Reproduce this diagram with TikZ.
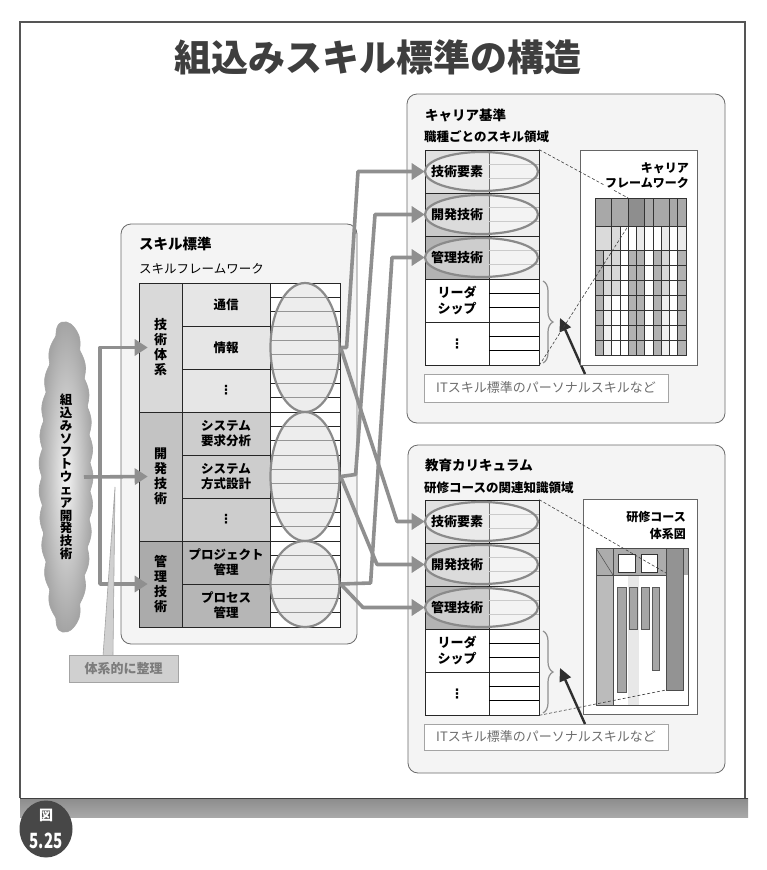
\documentclass[tikz,border=0pt]{standalone}
\usepackage{fontspec}
\setmainfont{Noto Sans CJK JP}
\newfontfamily\dejavu{DejaVu Sans}
\usetikzlibrary{shapes.geometric,arrows.meta,decorations.pathreplacing}
\newcommand\myfs[2]{\fontsize{#1pt}{#2pt}\selectfont}
\newcommand\myvdots{{\dejavu\bfseries ⋮}}
\definecolor{conncol}{HTML}{8F8F8F}
\definecolor{frameline}{HTML}{555555}
\definecolor{panelfill}{HTML}{F4F4F4}
\definecolor{panelline}{HTML}{6A6A6A}
\definecolor{tA1}{HTML}{D9D9D9}
\definecolor{tA2}{HTML}{E6E6E6}
\definecolor{tB1}{HTML}{C3C3C3}
\definecolor{tB2}{HTML}{CDCDCD}
\definecolor{tC1}{HTML}{ABABAB}
\definecolor{tC2}{HTML}{B6B6B6}
\definecolor{kA1}{HTML}{E0E0E0}
\definecolor{kB1}{HTML}{C9C9C9}
\definecolor{kC1}{HTML}{B3B3B3}
\definecolor{kcol2}{HTML}{EEEEEE}
\definecolor{ellline}{HTML}{8A8A8A}
\definecolor{ellfill}{HTML}{E2E2E2}
\definecolor{subgray}{HTML}{B0B0B0}
\definecolor{textgray}{HTML}{6E6E6E}
\definecolor{darkarr}{HTML}{2E2E2E}
\definecolor{gtop}{HTML}{A8A8A8}
\definecolor{ghl}{HTML}{8E8E8E}
\definecolor{gD}{HTML}{B2B2B2}
\definecolor{gLa}{HTML}{D8D8D8}
\definecolor{gLb}{HTML}{EFEFEF}
\definecolor{gl2}{HTML}{DADADA}
\definecolor{gl3}{HTML}{EAEAEA}
\definecolor{cgray}{HTML}{ACACAC}
\definecolor{cgray2}{HTML}{BBBBBB}
\definecolor{cdark}{HTML}{939393}
\definecolor{cbar}{HTML}{A6A6A6}
\definecolor{clight}{HTML}{E8E8E8}
\definecolor{titlec}{HTML}{3E3E3E}
\definecolor{badgec}{HTML}{474747}
\definecolor{tkfill}{HTML}{D0D0D0}
\definecolor{tkline}{HTML}{A4A4A4}
\definecolor{tktext}{HTML}{7C7C7C}
\definecolor{bandtop}{HTML}{8C8C8C}
\definecolor{bandbot}{HTML}{A8A8A8}
\definecolor{cloudin}{HTML}{F2F2F2}
\definecolor{cloudout}{HTML}{A4A4A4}
\begin{document}
\begin{tikzpicture}[x=1pt,y=-1pt,
  panel/.style={draw=panelline, line width=0.8pt, fill=panelfill, rounded corners=10pt},
  cellbox/.style={draw=black!85, line width=0.6pt, inner sep=0pt, minimum height=43pt},
  lbl/.style={font=\myfs{12.5}{15}\bfseries, align=center, inner sep=0pt},
  klbl/.style={font=\myfs{13}{16}\bfseries, align=center, inner sep=0pt},
  ellnode/.style={ellipse, draw=ellline, line width=2.2pt, fill=ellfill, fill opacity=0.6, inner sep=0pt, minimum width=69pt},
  ellk/.style={ellipse, draw=ellline, line width=2.2pt, fill=white, fill opacity=0.35, inner sep=0pt, minimum width=113pt, minimum height=39pt},
  gconn/.style={draw=conncol, line width=3.6pt, line join=round, -{Triangle[length=13pt,width=16pt]}},
  darrow/.style={draw=darkarr, line width=2.4pt, -{Triangle[length=13pt,width=12pt]}},
  gbrace/.style={draw=conncol, line width=1.2pt, decorate, decoration={brace, amplitude=10pt}},
  itbox/.style={draw=tkline, line width=0.8pt, fill=white, minimum width=244pt, text=textgray, font=\myfs{13}{15}, inner sep=0pt},
  dline/.style={draw=black!75, line width=0.6pt, dash pattern=on 3pt off 2pt},
  gridline/.style={draw=black!80, line width=0.5pt},
  ptitle/.style={anchor=west, font=\myfs{13.5}{16}\bfseries, inner sep=0pt},
  psub/.style={anchor=west, font=\myfs{12.5}{15}, inner sep=0pt}
]
\useasboundingbox (0,0) rectangle (766,870);
\fill[white] (0,0) rectangle (766,870);

% ---------- frame and band ----------
\draw[frameline, line width=1.2pt] (20,798) -- (20,22) -- (745,22) -- (745,798);
\shade[top color=bandtop, bottom color=bandbot] (20,798) rectangle (748,817);
\draw[black!75, line width=1pt] (20,798) -- (748,798);
\node[ellipse, fill=badgec, minimum width=53pt, minimum height=57pt, inner sep=0pt] (badge) at (46,829) {};
\node[text=white, font=\myfs{14}{16}\bfseries, inner sep=0pt] (badgea) at (46,815) {図};
\node[text=white, font=\myfs{21}{22}\bfseries, xscale=0.72, inner sep=0pt] (badgeb) at (46,841) {5.25};

% ---------- title ----------
\node[text=titlec, font=\myfs{37}{40}\bfseries, inner sep=0pt] (title) at (378,57) {組込みスキル標準の構造};

% ---------- panels ----------
\draw[panel] (121,224) rectangle (357,644);
\draw[panel] (407,94) rectangle (725,423);
\draw[panel] (408,445) rectangle (725,773);

% ---------- cloud ----------
\shadedraw[inner color=cloudin, outer color=cloudout, draw=black!35, line width=0.6pt]
  plot[domain=0:1, samples=160, smooth] ({66+24*pow(abs(sin(180*\x))+0.0001,0.45)+3*abs(sin(1980*\x))}, {322+310*\x})
  -- plot[domain=1:0, samples=160, smooth] ({66-24*pow(abs(sin(180*\x))+0.0001,0.45)-3*abs(sin(1980*\x+90))}, {322+310*\x}) -- cycle;
\node[font=\myfs{12.5}{12.8}\bfseries, align=center, inner sep=0pt] (cloudtxt) at (66,477)
  {組\\込\\み\\ソ\\フ\\ト\\ウ\\ェ\\ア\\開\\発\\技\\術};
\coordinate (cl) at (84,477);
\coordinate (trunk) at (100,477);

% ---------- skill standard ----------
\node[ptitle, font=\myfs{14.5}{16}\bfseries] (skt) at (139,244) {スキル標準};
\node[psub] (skf) at (139,269) {スキルフレームワーク};
\node[cellbox, fill=tA1, minimum width=43pt, minimum height=129pt] (g1) at (160.5,347.5) {};
\node[cellbox, fill=tB1, minimum width=43pt, minimum height=129pt] (g2) at (160.5,476.5) {};
\node[cellbox, fill=tC1, minimum width=43pt, minimum height=86pt] (g3) at (160.5,584) {};
\node[cellbox, fill=tA2, minimum width=88pt] (s1) at (226,304.5) {};
\node[cellbox, fill=tA2, minimum width=88pt] (s2) at (226,347.5) {};
\node[cellbox, fill=tA2, minimum width=88pt] (s3) at (226,390.5) {};
\node[cellbox, fill=tB2, minimum width=88pt] (s4) at (226,433.5) {};
\node[cellbox, fill=tB2, minimum width=88pt] (s5) at (226,476.5) {};
\node[cellbox, fill=tB2, minimum width=88pt] (s6) at (226,519.5) {};
\node[cellbox, fill=tC2, minimum width=88pt] (s7) at (226,562.5) {};
\node[cellbox, fill=tC2, minimum width=88pt] (s8) at (226,605.5) {};
\node[cellbox, fill=white, minimum width=70pt, minimum height=344pt] (s9) at (305,455) {};
\foreach \k in {1,...,23} \draw[line width=0.5pt, black!85] (270,{283+\k*43/3}) -- (340,{283+\k*43/3});
\node[ellnode, minimum height=129pt] (e1) at (305,347.5) {};
\node[ellnode, minimum height=129pt] (e2) at (305,476.5) {};
\node[ellnode, minimum height=86pt] (e3) at (305,584) {};
\node[lbl, font=\myfs{13}{15}\bfseries] (g1t) at (g1) {技\\術\\体\\系};
\node[lbl, font=\myfs{13}{15}\bfseries] (g2t) at (g2) {開\\発\\技\\術};
\node[lbl, font=\myfs{13}{15}\bfseries] (g3t) at (g3) {管\\理\\技\\術};
\node[lbl] (s1t) at (s1) {通信};
\node[lbl] (s2t) at (s2) {情報};
\node[lbl] (s3t) at (s3) {\myvdots};
\node[lbl] (s4t) at (s4) {システム\\要求分析};
\node[lbl] (s5t) at (s5) {システム\\方式設計};
\node[lbl] (s6t) at (s6) {\myvdots};
\node[lbl] (s7t) at (s7) {プロジェクト\\管理};
\node[lbl] (s8t) at (s8) {プロセス\\管理};

% left arrows and callout
\draw[gconn] (trunk) |- ([xshift=9pt]g1.west);
\draw[gconn] (trunk) |- ([xshift=9pt]g3.west);
\draw[gconn] (cl) -- ([xshift=9pt]g2.west);
\filldraw[fill=tkfill, draw=tkline, line width=0.6pt] (103,656) -- (115,487) -- (113,656) -- cycle;
\node[draw=tkline, line width=0.8pt, fill=tkfill, minimum width=109pt, minimum height=27pt, text=tktext, font=\myfs{13}{15}\bfseries, inner sep=0pt] (tk) at (123.5,668.5) {体系的に整理};

% ---------- career ----------
\node[ptitle] (kt) at (425,115) {キャリア基準};
\node[psub, font=\myfs{12.5}{15}\bfseries] (kf) at (424,137) {職種ごとのスキル領域};
\node[cellbox, fill=kA1, minimum width=64pt] (k1) at (457,171.5) {};
\node[cellbox, fill=kB1, minimum width=64pt] (k2) at (457,214.5) {};
\node[cellbox, fill=kC1, minimum width=64pt] (k3) at (457,257.5) {};
\node[cellbox, fill=white, minimum width=64pt] (k4) at (457,300.5) {};
\node[cellbox, fill=white, minimum width=64pt] (k5) at (457,343.5) {};
\node[cellbox, fill=kcol2, minimum width=50pt] (kk1) at (514,171.5) {};
\node[cellbox, fill=kcol2, minimum width=50pt] (kk2) at (514,214.5) {};
\node[cellbox, fill=kcol2, minimum width=50pt] (kk3) at (514,257.5) {};
\node[cellbox, fill=white, minimum width=50pt] (kk4) at (514,300.5) {};
\node[cellbox, fill=white, minimum width=50pt] (kk5) at (514,343.5) {};
\foreach \r/\c in {0/subgray,1/subgray,2/subgray,3/black,4/black}
  \foreach \j in {1,2} \draw[line width=0.5pt, \c] (489,{150+43*\r+\j*43/3}) -- (539,{150+43*\r+\j*43/3});
\node[ellk] (ke1) at (481.5,171.5) {};
\node[ellk] (ke2) at (481.5,214.5) {};
\node[ellk] (ke3) at (481.5,257.5) {};
\node[klbl] (k1t) at (k1) {技術要素};
\node[klbl] (k2t) at (k2) {開発技術};
\node[klbl] (k3t) at (k3) {管理技術};
\node[klbl] (k4t) at (k4) {リーダ\\シップ};
\node[klbl] (k5t) at (k5) {\myvdots};
\draw[gbrace] (543,281) -- (543,363);
\coordinate (kb) at (560,318);
\node[itbox, minimum height=28pt] (it1) at (546,388) {ITスキル標準のパーソナルスキルなど};
\coordinate (ka) at (585,374);
\draw[darrow] (ka) -- (kb);
% framework
\draw[draw=black!60, line width=0.7pt, fill=white] (580,150) rectangle (697,365);
\foreach \a/\b/\c in {0/2/gtop,2/4/gtop,4/6/ghl,6/7/gtop,7/9/gtop,9/10/gtop,10/11/gtop}
  \filldraw[fill=\c, gridline] ({595+8.2727*\a},198) rectangle ({595+8.2727*\b},226);
\foreach \a/\b/\c in {0/2/gl2,2/3/gl2,3/4/white,4/5/white,5/6/gl3,6/7/white,7/8/white,8/9/gl3,9/10/white,10/11/gl3}
  \filldraw[fill=\c, gridline] ({595+8.2727*\a},226) rectangle ({595+8.2727*\b},250);
\foreach \r in {0,1,2}
  \foreach \cc/\col in {0/gD,1/gLa,2/gLa,3/white,4/gD,5/gD,6/white,7/gD,8/gLa,9/white,10/gD}
    \filldraw[fill=\col, gridline] ({595+8.2727*\cc},{250+15*\r}) rectangle ({595+8.2727*(\cc+1)},{250+15*(\r+1)});
\foreach \r in {3,4,5,6}
  \foreach \cc/\col in {0/gD,1/gLb,2/white,3/white,4/gD,5/gD,6/white,7/gD,8/gLb,9/white,10/gD}
    \filldraw[fill=\col, gridline] ({595+8.2727*\cc},{250+15*\r}) rectangle ({595+8.2727*(\cc+1)},{250+15*(\r+1)});
\coordinate (hlt) at (628.1,198);
\coordinate (hlb) at (628.1,226);
\draw[dline] (kk1.north east) -- (hlt);
\draw[dline] (kk5.south east) -- (hlb);
\node[anchor=east, fill=white, inner sep=1pt, font=\myfs{12}{14}\bfseries] (kfw1) at (690,168) {キャリア};
\node[anchor=east, fill=white, inner sep=1pt, font=\myfs{12}{14}\bfseries] (kfw2) at (690,183) {フレームワーク};

% ---------- curriculum ----------
\node[ptitle] (ut) at (425,465) {教育カリキュラム};
\node[psub, font=\myfs{12.5}{15}\bfseries] (uf) at (424,488) {研修コースの関連知識領域};
\node[cellbox, fill=kA1, minimum width=64pt] (u1) at (457,521.5) {};
\node[cellbox, fill=kB1, minimum width=64pt] (u2) at (457,564.5) {};
\node[cellbox, fill=kC1, minimum width=64pt] (u3) at (457,607.5) {};
\node[cellbox, fill=white, minimum width=64pt] (u4) at (457,650.5) {};
\node[cellbox, fill=white, minimum width=64pt] (u5) at (457,693.5) {};
\node[cellbox, fill=kcol2, minimum width=50pt] (uu1) at (514,521.5) {};
\node[cellbox, fill=kcol2, minimum width=50pt] (uu2) at (514,564.5) {};
\node[cellbox, fill=kcol2, minimum width=50pt] (uu3) at (514,607.5) {};
\node[cellbox, fill=white, minimum width=50pt] (uu4) at (514,650.5) {};
\node[cellbox, fill=white, minimum width=50pt] (uu5) at (514,693.5) {};
\foreach \r/\c in {0/subgray,1/subgray,2/subgray,3/black,4/black}
  \foreach \j in {1,2} \draw[line width=0.5pt, \c] (489,{500+43*\r+\j*43/3}) -- (539,{500+43*\r+\j*43/3});
\node[ellk] (ue1) at (481.5,521.5) {};
\node[ellk] (ue2) at (481.5,564.5) {};
\node[ellk] (ue3) at (481.5,607.5) {};
\node[klbl] (u1t) at (u1) {技術要素};
\node[klbl] (u2t) at (u2) {開発技術};
\node[klbl] (u3t) at (u3) {管理技術};
\node[klbl] (u4t) at (u4) {リーダ\\シップ};
\node[klbl] (u5t) at (u5) {\myvdots};
\draw[gbrace] (543,631) -- (543,713);
\coordinate (ub) at (560,668);
\node[itbox, minimum height=26pt] (it2) at (546,737) {ITスキル標準のパーソナルスキルなど};
\coordinate (ua) at (585,724);
\draw[darrow] (ua) -- (ub);
% course diagram
\draw[draw=black!60, line width=0.7pt, fill=white] (583,499) rectangle (697,714);
\fill[cgray] (596,548) rectangle (666,575);
\fill[cgray2] (596,575) rectangle (613,705);
\fill[clight] (628,575) rectangle (639,705);
\fill[cdark] (666,548) rectangle (683,690);
\fill[cgray] (683,548) rectangle (688,575);
\draw[black!70, line width=0.5pt] (596,548) rectangle (688,705);
\draw[black!70, line width=0.5pt] (596,548) -- (613,575);
\draw[black!70, line width=0.5pt] (596,575) -- (666,575);
\draw[black!70, line width=0.5pt] (613,548) -- (613,705);
\draw[black!70, line width=0.5pt] (666,548) -- (666,690) -- (683,690) -- (683,548);
\filldraw[fill=white, draw=black!80, line width=0.6pt] (618,554) rectangle (635,572);
\filldraw[fill=white, draw=black!80, line width=0.6pt] (641,554) rectangle (657,572);
\filldraw[fill=cbar, draw=black!65, line width=0.5pt] (617,587) rectangle (626,692);
\filldraw[fill=cbar, draw=black!65, line width=0.5pt] (629,587) rectangle (637,629);
\filldraw[fill=cbar, draw=black!65, line width=0.5pt] (641,587) rectangle (649,629);
\filldraw[fill=cbar, draw=black!65, line width=0.5pt] (652,587) rectangle (659,670);
\coordinate (ct) at (666,573);
\coordinate (cb) at (666,690);
\draw[dline] (uu1.north east) -- (ct);
\draw[dline] (uu5.south east) -- (cb);
\node[anchor=east, inner sep=1pt, font=\myfs{12}{14}\bfseries] (cfw1) at (687,517) {研修コース};
\node[anchor=east, inner sep=1pt, font=\myfs{12}{14}\bfseries] (cfw2) at (687,534) {体系図};

% ---------- connectors from skill framework ----------
\draw[gconn] (e1.east) -- ++(6,0) -- (358,0 |- k1.west) -- (k1.west);
\draw[gconn] (e2.east) -- ++(15,-2) -- (375,0 |- k2.west) -- (k2.west);
\draw[gconn] (e3.east) -- ++(30,-1) -- (392,0 |- k3.west) -- (k3.west);
\draw[gconn] (e1.east) -- (397,0 |- u1.west) -- (u1.west);
\draw[gconn] (e2.east) -- (377,0 |- u2.west) -- (u2.west);
\draw[gconn] (e3.east) -- (363,0 |- u3.west) -- (u3.west);
\end{tikzpicture}
\end{document}
